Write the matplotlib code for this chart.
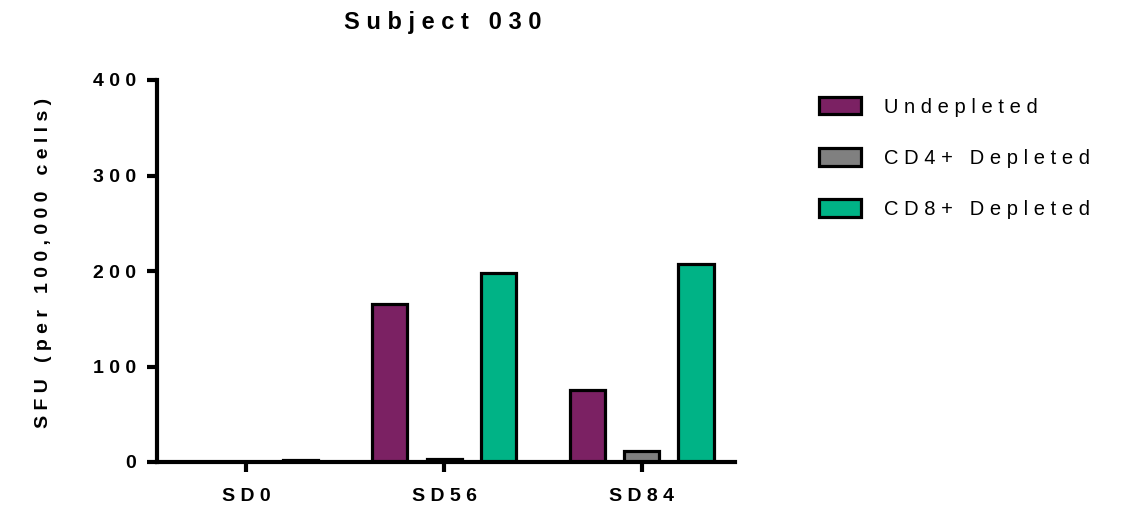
import numpy as np
import matplotlib.pyplot as plt
from matplotlib.patches import Patch

plt.rcParams['font.family'] = ['Liberation Sans', 'DejaVu Sans']

days = ["SD0", "SD56", "SD84"]
series = ["Undepleted", "CD4+ Depleted", "CD8+ Depleted"]
undepleted = [0, 165, 75]
cd4_depleted = [0, 3, 12]
cd8_depleted = [2, 198, 207]
colors = ["#7b2163", "#808080", "#00b386"]


def spaced(text, gap=" "):
    # widen the letter spacing by putting a gap between every character
    return gap.join(text).replace(gap + " " + gap, gap * 3)


fig = plt.figure(figsize=(11.25, 5.09), dpi=100)
ax = fig.add_axes([157 / 1125, 47 / 509, 578 / 1125, 382 / 509])

x = np.arange(len(days))
width = 0.177
offset = 0.273
for i, (vals, col) in enumerate(zip([undepleted, cd4_depleted, cd8_depleted], colors)):
    ax.bar(x + (i - 1) * offset, vals, width, color=col, edgecolor="black",
           linewidth=2.3, zorder=2)

ax.set_xlim(-0.45, 2.47)
ax.set_ylim(0, 400)
ax.set_yticks([0, 100, 200, 300, 400])
ax.set_yticklabels([spaced(str(v)) for v in [0, 100, 200, 300, 400]],
                   fontsize=14, fontweight="bold")
ax.set_xticks(x)
ax.set_xticklabels([spaced(d) for d in days], fontsize=14, fontweight="bold")

for side in ["top", "right"]:
    ax.spines[side].set_visible(False)
for side in ["left", "bottom"]:
    ax.spines[side].set_linewidth(3)
    ax.spines[side].set_zorder(3)
ax.tick_params(axis="y", length=7, width=3, pad=8)
ax.tick_params(axis="x", length=7, width=3, pad=12)

ax.set_ylabel(spaced("SFU (per 100,000 cells)"), fontsize=14, fontweight="bold")
ax.yaxis.set_label_coords(-0.182, 0.52)
fig.text(443 / 1125, 1 - 22 / 509, spaced("Subject 030"), fontsize=17,
         fontweight="bold", ha="center", va="center")

handles = [Patch(facecolor=c, edgecolor="black", linewidth=2.3) for c in colors]
fig.legend(handles, [spaced(s) for s in series], loc="upper left",
           bbox_to_anchor=(819 / 1125, 1 - 97 / 509), frameon=False,
           fontsize=14.5, handlelength=2.1, handleheight=0.95,
           handletextpad=1.15, labelspacing=1.57, borderpad=0,
           borderaxespad=0)

fig.savefig("out.png", dpi=100)
